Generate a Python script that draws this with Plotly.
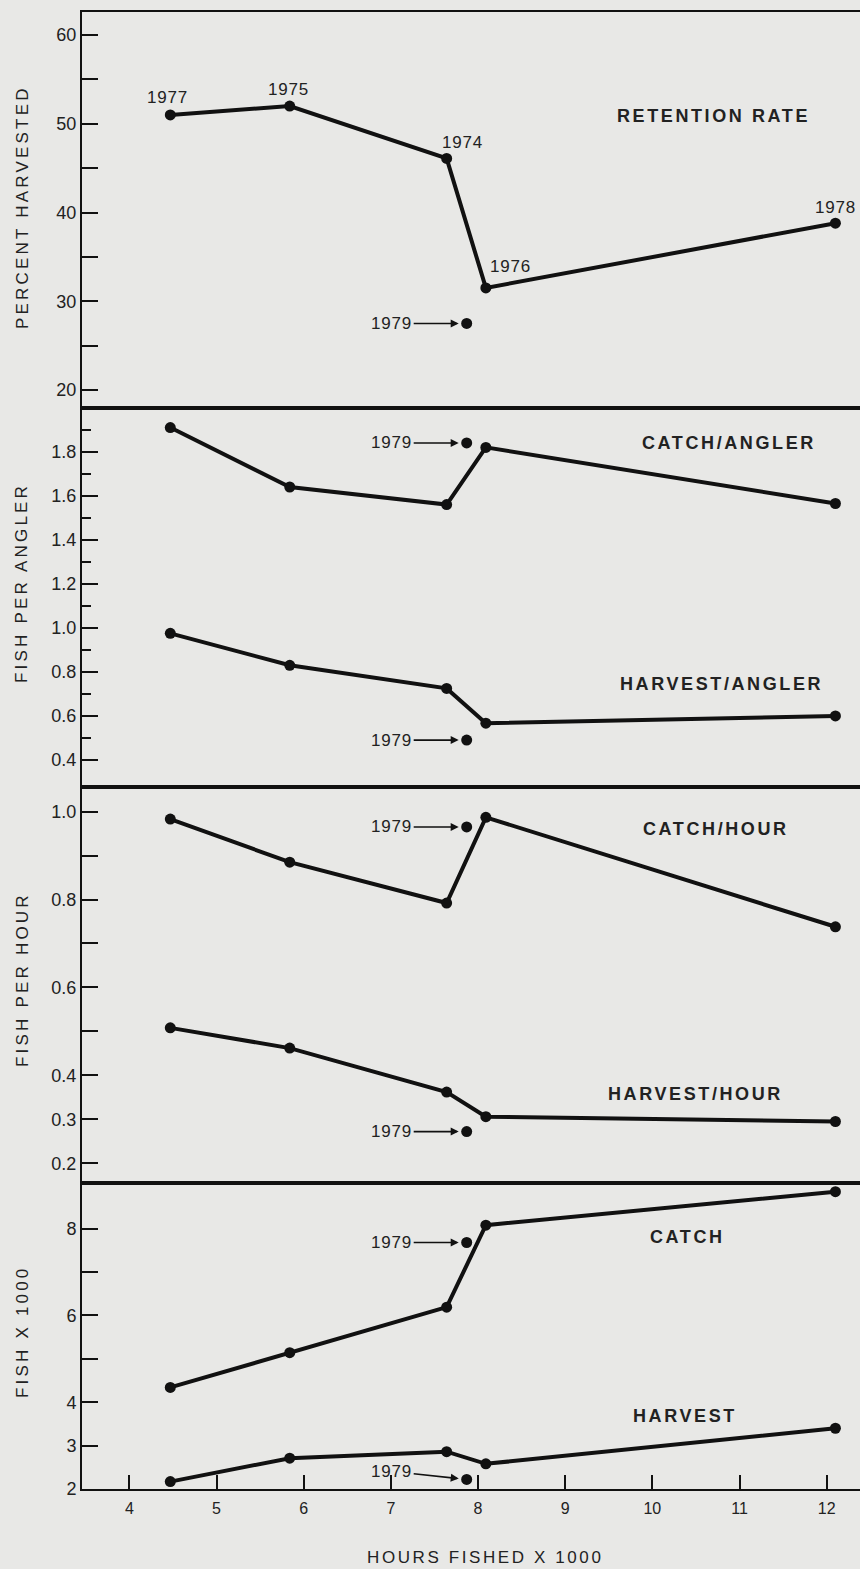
import plotly.graph_objects as go

# ---------------- data ----------------
years = ["1977", "1975", "1974", "1976", "1978"]
hours = [4.47, 5.84, 7.64, 8.09, 12.10]          # hours fished x 1000
hours_1979 = 7.87

retention = [51.0, 52.0, 46.1, 31.5, 38.8]       # percent harvested
retention_1979 = 27.5

catch_per_angler = [1.91, 1.64, 1.56, 1.82, 1.565]
catch_per_angler_1979 = 1.84
harvest_per_angler = [0.975, 0.83, 0.725, 0.567, 0.60]
harvest_per_angler_1979 = 0.49

catch_per_hour = [0.983, 0.885, 0.792, 0.987, 0.738]
catch_per_hour_1979 = 0.965
harvest_per_hour = [0.508, 0.462, 0.362, 0.306, 0.295]
harvest_per_hour_1979 = 0.272

catch_k = [4.34, 5.14, 6.19, 8.08, 8.85]
catch_k_1979 = 7.68
harvest_k = [2.17, 2.71, 2.86, 2.58, 3.40]
harvest_k_1979 = 2.22

x_ticks = [4, 5, 6, 7, 8, 9, 10, 11, 12]

# ---------------- style ----------------
INK = "#111111"
TXT = "#222222"
BG = "#e8e8e6"
FONT = "Liberation Sans, Arial, sans-serif"

fig = go.Figure()

def add_series(xs, ys, yaxis):
    fig.add_trace(go.Scatter(x=xs, y=ys, xaxis="x" if yaxis == "y" else "x" + yaxis[1:],
                             yaxis=yaxis, mode="lines+markers",
                             line=dict(color=INK, width=4),
                             marker=dict(color=INK, size=11),
                             showlegend=False, hoverinfo="x+y"))

def add_point(x, y, yaxis):
    fig.add_trace(go.Scatter(x=[x], y=[y], xaxis="x" if yaxis == "y" else "x" + yaxis[1:],
                             yaxis=yaxis, mode="markers",
                             marker=dict(color=INK, size=11),
                             showlegend=False, hoverinfo="x+y"))

add_series(hours, retention, "y")
add_point(hours_1979, retention_1979, "y")
add_series(hours, catch_per_angler, "y2")
add_series(hours, harvest_per_angler, "y2")
add_point(hours_1979, catch_per_angler_1979, "y2")
add_point(hours_1979, harvest_per_angler_1979, "y2")
add_series(hours, catch_per_hour, "y3")
add_series(hours, harvest_per_hour, "y3")
add_point(hours_1979, catch_per_hour_1979, "y3")
add_point(hours_1979, harvest_per_hour_1979, "y3")
add_series(hours, catch_k, "y4")
add_series(hours, harvest_k, "y4")
add_point(hours_1979, catch_k_1979, "y4")
add_point(hours_1979, harvest_k_1979, "y4")

X_RANGE = [3.457, 12.382]
domains = [[0.7319, 1.0], [0.4753, 0.7319], [0.2070, 0.4753], [0.0, 0.2070]]

def yax(dom, rng, major, labels, minor, minorlen=16):
    return dict(domain=dom, range=rng, tickmode="array", tickvals=major, ticktext=labels,
                ticks="inside", ticklen=16, tickwidth=2, tickcolor=INK,
                minor=dict(tickmode="array", tickvals=minor, ticks="inside",
                           ticklen=minorlen, tickwidth=2, tickcolor=INK, showgrid=False),
                showline=True, linecolor=INK, linewidth=2, showgrid=False, zeroline=False,
                tickfont=dict(family=FONT, size=18, color=TXT), anchor=None)

def xax(anchor, visible):
    d = dict(domain=[0, 1], range=X_RANGE, anchor=anchor, showline=True, mirror=True,
             linecolor=INK, linewidth=2, showgrid=False, zeroline=False)
    if visible:
        d.update(tickmode="array", tickvals=x_ticks, ticks="inside", ticklen=14,
                 tickwidth=2, tickcolor=INK, ticklabelstandoff=4,
                 tickfont=dict(family=FONT, size=16, color=TXT))
    else:
        d.update(showticklabels=False, ticks="", matches="x4")
    return d

y1 = yax(domains[0], [17.97, 62.6], [20, 30, 40, 50, 60], ["20", "30", "40", "50", "60"], [25, 35, 45, 55])
y2 = yax(domains[1], [0.277, 1.999], [0.4, 0.6, 0.8, 1.0, 1.2, 1.4, 1.6, 1.8],
         ["0.4", "0.6", "0.8", "1.0", "1.2", "1.4", "1.6", "1.8"],
         [0.5, 0.7, 0.9, 1.1, 1.3, 1.5, 1.7, 1.9], minorlen=9)
y3 = yax(domains[2], [0.1545, 1.056], [0.2, 0.3, 0.4, 0.6, 0.8, 1.0],
         ["0.2", "0.3", "0.4", "0.6", "0.8", "1.0"], [0.5, 0.7, 0.9])
y4 = yax(domains[3], [2.0, 9.045], [2, 3, 4, 6, 8], ["2", "3", "4", "6", "8"], [5, 7])
for i, y in enumerate([y1, y2, y3, y4]):
    y["anchor"] = "x" if i == 0 else "x%d" % (i + 1)

fig.update_layout(
    width=860, height=1569,
    margin=dict(l=82, r=0, t=12, b=80),
    paper_bgcolor=BG, plot_bgcolor=BG,
    font=dict(family=FONT, color=TXT),
    xaxis=xax("y", False), xaxis2=xax("y2", False), xaxis3=xax("y3", False),
    xaxis4=xax("y4", True),
    yaxis=y1, yaxis2=y2, yaxis3=y3, yaxis4=y4,
)

def spaced(t, sp):
    return '<span style="letter-spacing:%spx">%s</span>' % (sp, t)

ann = []
# panel labels
def label(text, x, y, yref, size=18):
    ann.append(dict(text="<b>" + spaced(text, 2.6) + "</b>", x=x, y=y, xref="x" if yref == "y" else "x" + yref[1:],
                    yref=yref, showarrow=False, xanchor="center", yanchor="middle",
                    font=dict(family=FONT, size=size, color=TXT)))

label("RETENTION RATE", 10.70, 50.9, "y")
label("CATCH/ANGLER", 10.88, 1.838, "y2")
label("HARVEST/ANGLER", 10.79, 0.747, "y2")
label("CATCH/HOUR", 10.73, 0.96, "y3")
label("HARVEST/HOUR", 10.49, 0.357, "y3")
label("CATCH", 10.40, 7.80, "y4")
label("HARVEST", 10.37, 3.675, "y4")

# year labels on retention curve
year_shift = [(-3, 17), (-1, 17), (16, 16), (25, 21), (0, 16)]
for yr, xv, yv, (dx, dy) in zip(years, hours, retention, year_shift):
    ann.append(dict(text=spaced(yr, 0.8), x=xv, y=yv, xref="x", yref="y", showarrow=False,
                    xshift=dx, yshift=dy, font=dict(family=FONT, size=17, color=TXT)))

# 1979 arrows
def arrow(yv, yref, ay=0):
    ann.append(dict(text=spaced("1979", 0.8), x=hours_1979, y=yv,
                    xref="x" if yref == "y" else "x" + yref[1:], yref=yref,
                    showarrow=True, ax=-75, ay=ay, arrowhead=2, arrowsize=1, arrowwidth=1.6,
                    arrowcolor=INK, standoff=8, font=dict(family=FONT, size=17, color=TXT)))

arrow(retention_1979, "y")
arrow(catch_per_angler_1979, "y2")
arrow(harvest_per_angler_1979, "y2")
arrow(catch_per_hour_1979, "y3")
arrow(harvest_per_hour_1979, "y3")
arrow(catch_k_1979, "y4")
arrow(harvest_k_1979, "y4", ay=-8)

# axis titles
def ytitle(text, py):
    ann.append(dict(text=spaced(text, 3.2), x=0, y=(1489 - py) / 1477, xref="paper", yref="paper",
                    xshift=-60, textangle=-90, showarrow=False, xanchor="center", yanchor="middle",
                    font=dict(family=FONT, size=17, color=TXT)))

ytitle("PERCENT HARVESTED", 207)
ytitle("FISH PER ANGLER", 583)
ytitle("FISH PER HOUR", 980)
ytitle("FISH X 1000", 1332)

ann.append(dict(text=spaced("HOURS FISHED X 1000", 2.6), x=(484.5 - 82) / 778, y=(1489 - 1557) / 1477,
                xref="paper", yref="paper", showarrow=False, xanchor="center", yanchor="middle",
                font=dict(family=FONT, size=17, color=TXT)))

fig.update_layout(annotations=ann)
fig.write_html("out.html")
